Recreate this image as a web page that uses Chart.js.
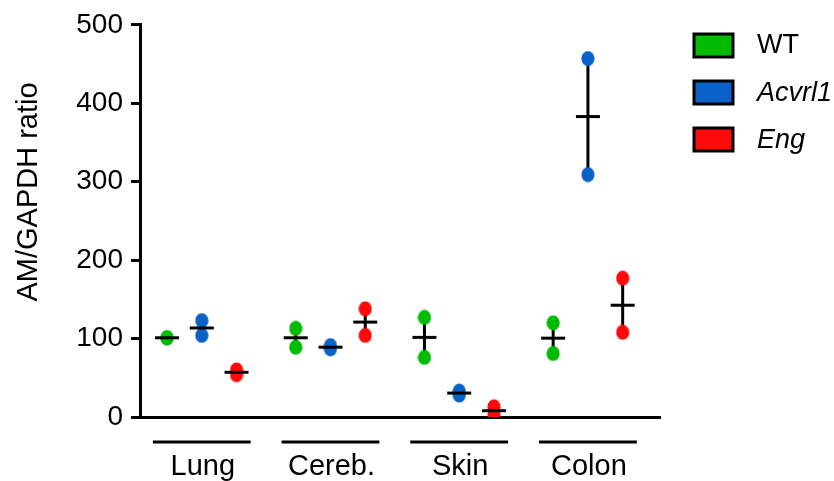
<!DOCTYPE html>
<html>
<head>
<meta charset="utf-8">
<script src="https://cdn.jsdelivr.net/npm/chart.js@4"></script>
<style>
  html, body { margin: 0; padding: 0; background: #fff; }
  #wrap { position: relative; width: 834px; height: 481px; }
</style>
</head>
<body>
<div id="wrap"><canvas id="c"></canvas></div>
<script>
// ---- data ----
const categories = ['Lung', 'Cereb.', 'Skin', 'Colon'];
const seriesNames = ['WT', 'Acvrl1', 'Eng'];
const wtValues = [[101, 101], [113, 89], [127, 76], [120, 81]];
const acvrl1Values = [[123, 104], [91, 87], [33, 28], [457, 309]];
const engValues = [[60, 54], [138, 104], [13, 3], [177, 108]];
const yTicks = [0, 100, 200, 300, 400, 500];
const yTitle = 'AM/GAPDH ratio';

// ---- styles ----
const seriesValues = [wtValues, acvrl1Values, engValues];
const seriesColors = ['#00bb00', '#0a62c8', '#ff0a0a'];
const seriesItalic = [false, true, true];
const groupOffset = 0.27;
const FONT = '"Liberation Sans", Arial, Helvetica, sans-serif';

function dotImage(color) {
  const cv = document.createElement('canvas');
  cv.width = 14; cv.height = 16;
  const c = cv.getContext('2d');
  c.fillStyle = color;
  c.beginPath();
  c.ellipse(7, 8, 6.6, 7.6, 0, 0, Math.PI * 2);
  c.fill();
  return cv;
}

const datasets = seriesNames.map((name, j) => ({
  label: name,
  data: seriesValues[j].flatMap((pair, i) =>
    pair.map(v => ({ x: i + 1 + (j - 1) * groupOffset, y: v }))),
  pointStyle: dotImage(seriesColors[j]),
  pointRadius: 7,
  backgroundColor: seriesColors[j],
  borderWidth: 0
}));

function seriesX(i, j) { return i + 1 + (j - 1) * groupOffset; }

const errorBarsPlugin = {
  id: 'errorBars',
  beforeDatasetsDraw(chart) {
    const { ctx, scales: { x, y } } = chart;
    ctx.save();
    ctx.strokeStyle = '#000';
    ctx.lineWidth = 3;
    seriesValues.forEach((vals, j) => {
      vals.forEach((pair, i) => {
        const px = x.getPixelForValue(seriesX(i, j));
        const lo = Math.min(...pair), hi = Math.max(...pair);
        if (hi - lo < 1e-9) return;
        ctx.beginPath();
        ctx.moveTo(px, y.getPixelForValue(lo));
        ctx.lineTo(px, y.getPixelForValue(hi));
        ctx.stroke();
      });
    });
    ctx.restore();
  },
  afterDatasetsDraw(chart) {
    const { ctx, scales: { x, y } } = chart;
    ctx.save();
    ctx.strokeStyle = '#000';
    ctx.lineWidth = 3;
    seriesValues.forEach((vals, j) => {
      vals.forEach((pair, i) => {
        const px = x.getPixelForValue(seriesX(i, j));
        const mean = pair.reduce((a, b) => a + b, 0) / pair.length;
        const py = y.getPixelForValue(mean);
        ctx.beginPath();
        ctx.moveTo(px - 12, py);
        ctx.lineTo(px + 12, py);
        ctx.stroke();
      });
    });
    ctx.restore();
  }
};

const decorPlugin = {
  id: 'decor',
  afterDraw(chart) {
    const { ctx, scales: { x, y }, chartArea } = chart;
    ctx.save();
    // category underline bars and labels
    ctx.strokeStyle = '#000';
    ctx.lineWidth = 3;
    ctx.fillStyle = '#000';
    ctx.font = '29px ' + FONT;
    ctx.textAlign = 'center';
    ctx.textBaseline = 'alphabetic';
    categories.forEach((cat, i) => {
      const x0 = x.getPixelForValue(i + 1 - 0.38);
      const x1 = x.getPixelForValue(i + 1 + 0.38);
      const ly = chartArea.bottom + 25;
      ctx.beginPath();
      ctx.moveTo(x0, ly);
      ctx.lineTo(x1, ly);
      ctx.stroke();
      ctx.fillText(cat, x.getPixelForValue(i + 1) + 1, chartArea.bottom + 58);
    });
    // y title
    ctx.save();
    ctx.translate(29, 192);
    ctx.rotate(-Math.PI / 2);
    ctx.font = '29px ' + FONT;
    ctx.textBaseline = 'middle';
    ctx.textAlign = 'center';
    ctx.fillText(yTitle, 0, 0);
    ctx.restore();
    // legend
    const lx = chartArea.right + 34;
    seriesNames.forEach((name, j) => {
      const top = 34 + j * 47;
      ctx.fillStyle = seriesColors[j];
      ctx.fillRect(lx, top, 39, 23);
      ctx.strokeStyle = '#000';
      ctx.lineWidth = 3;
      ctx.strokeRect(lx, top, 39, 23);
      ctx.fillStyle = '#000';
      ctx.font = (seriesItalic[j] ? 'italic ' : '') + '27px ' + FONT;
      ctx.textAlign = 'left';
      ctx.textBaseline = 'middle';
      ctx.fillText(name, lx + 63, top + 12);
    });
    ctx.restore();
  }
};

new Chart(document.getElementById('c'), {
  type: 'scatter',
  data: { datasets },
  options: {
    responsive: true,
    maintainAspectRatio: false,
    animation: false,
    devicePixelRatio: 1,
    layout: { padding: { left: 0, right: 174, top: 23, bottom: 0 } },
    plugins: { legend: { display: false }, tooltip: { enabled: false } },
    scales: {
      x: {
        type: 'linear',
        min: 0.52,
        max: 4.56,
        ticks: { display: false },
        grid: { display: false },
        border: { display: true, color: '#000', width: 3 },
        afterFit(scale) { scale.height = 64; }
      },
      y: {
        type: 'linear',
        min: 0,
        max: 500,
        afterBuildTicks(scale) { scale.ticks = yTicks.map(v => ({ value: v })); },
        ticks: {
          color: '#000',
          padding: 8,
          font: { family: FONT, size: 28 }
        },
        grid: {
          display: true,
          drawOnChartArea: false,
          drawTicks: true,
          tickLength: 9,
          lineWidth: 3,
          color: '#000'
        },
        border: { display: true, color: '#000', width: 3 },
        afterFit(scale) { scale.width = 140; }
      }
    }
  },
  plugins: [errorBarsPlugin, decorPlugin]
});
</script>
</body>
</html>
